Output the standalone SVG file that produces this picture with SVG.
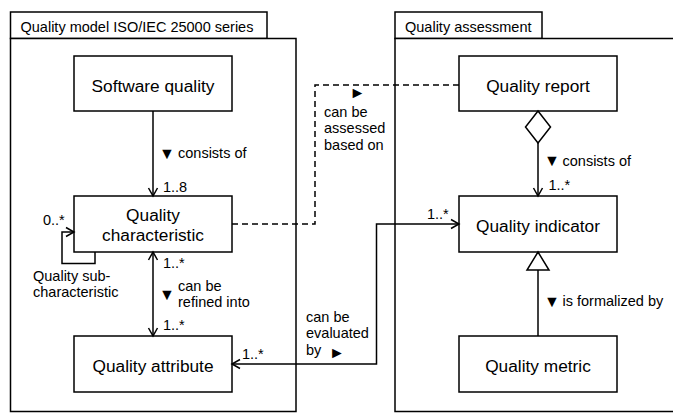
<svg xmlns="http://www.w3.org/2000/svg" width="673" height="413" viewBox="0 0 673 413">
<style>
  .pkg { fill: #fff; stroke: #000; stroke-width: 1.5; }
  .box { fill: #fff; stroke: #000; stroke-width: 1.5; }
  .t { font-family: "Liberation Sans", Arial, sans-serif; font-size: 14.5px; fill: #000; }
  .bt { font-family: "Liberation Sans", Arial, sans-serif; font-size: 17.3px; fill: #000; text-anchor: middle; }
  .sym { font-family: "Liberation Sans", "DejaVu Sans", sans-serif; font-size: 16px; fill: #000; }
  .c { fill: none; stroke: #000; stroke-width: 1.5; }
  .dash { stroke-dasharray: 6 4; }
  .head { fill: #fff; stroke: #000; stroke-width: 1.5; }
</style>
<defs>
  <marker id="open" markerUnits="userSpaceOnUse" markerWidth="12" markerHeight="12" refX="9" refY="6" orient="auto-start-reverse">
    <path d="M1,1.5 L9,6 L1,10.5" fill="none" stroke="#000" stroke-width="1.5"/>
  </marker>
</defs>

<g id="pkg-quality-model">
  <rect class="pkg" x="10.5" y="12" width="256.5" height="26.5"/>
  <rect class="pkg" x="10.5" y="38.5" width="285.5" height="373"/>
  <text class="t" x="20.5" y="31.5">Quality model ISO/IEC 25000 series</text>
</g>
<g id="pkg-quality-assessment">
  <rect class="pkg" x="395" y="12" width="147" height="26.5"/>
  <rect class="pkg" x="395" y="38.5" width="290" height="373"/>
  <text class="t" x="405" y="31.5">Quality assessment</text>
</g>

<g id="software-quality">
  <rect class="box" x="74" y="56" width="158" height="55"/>
  <text class="bt" x="153" y="91.5">Software quality</text>
</g>
<g id="quality-characteristic">
  <rect class="box" x="74" y="196" width="158" height="56"/>
  <text class="bt" x="153" y="220.5">Quality</text>
  <text class="bt" x="153" y="240.5">characteristic</text>
</g>
<g id="quality-attribute">
  <rect class="box" x="74" y="336" width="158" height="56"/>
  <text class="bt" x="153" y="371.5">Quality attribute</text>
</g>
<g id="quality-report">
  <rect class="box" x="459" y="56" width="158" height="55"/>
  <text class="bt" x="538" y="91.5">Quality report</text>
</g>
<g id="quality-indicator">
  <rect class="box" x="459" y="196" width="158" height="56"/>
  <text class="bt" x="538" y="231.5">Quality indicator</text>
</g>
<g id="quality-metric">
  <rect class="box" x="459" y="336" width="158" height="56"/>
  <text class="bt" x="538" y="371.5">Quality metric</text>
</g>

<g id="connectors">
  <path class="c" d="M153,111 V196" marker-end="url(#open)"/>
  <path class="c" d="M95,252 V263.5 H62 V232 H74" marker-end="url(#open)"/>
  <path class="c" d="M153,252 V336" marker-start="url(#open)" marker-end="url(#open)"/>
  <path class="c dash" d="M232,224 H315 V85 H459"/>
  <path class="c" d="M538,143 V196" marker-end="url(#open)"/>
  <path class="head" d="M538,111 L550.5,127 L538,143 L525.5,127 Z"/>
  <path class="c" d="M538,270 V336"/>
  <path class="head" d="M538,252 L549,270 L527,270 Z"/>
  <path class="c" d="M459,224 H376.5 V364 H232" marker-start="url(#open)" marker-end="url(#open)"/>

  <text class="sym" x="159" y="158.5">▼</text>
  <text class="t" x="178" y="158">consists of</text>
  <text class="t" x="163" y="191.5">1..8</text>
  <text class="t" x="43" y="225">0..*</text>
  <text class="t" x="33" y="281">Quality sub-</text>
  <text class="t" x="33" y="297">characteristic</text>
  <text class="t" x="163" y="268">1..*</text>
  <text class="sym" x="159" y="299.5">▼</text>
  <text class="t" x="178" y="290.5">can be</text>
  <text class="t" x="178" y="307">refined into</text>
  <text class="t" x="163" y="330">1..*</text>
  <text class="t" x="306" y="321.5">can be</text>
  <text class="t" x="306" y="338">evaluated</text>
  <text class="t" x="306" y="354.5">by</text>
  <text class="sym" x="329" y="357.5">►</text>
  <text class="t" x="242" y="358.5">1..*</text>
  <text class="t" x="427" y="219">1..*</text>
  <text class="sym" x="349.5" y="98">►</text>
  <text class="t" x="324" y="116.5">can be</text>
  <text class="t" x="324" y="133">assessed</text>
  <text class="t" x="324" y="149.5">based on</text>
  <text class="sym" x="544" y="166">▼</text>
  <text class="t" x="562.5" y="165.5">consists of</text>
  <text class="t" x="548.5" y="190">1..*</text>
  <text class="sym" x="544" y="306.5">▼</text>
  <text class="t" x="562.5" y="306">is formalized by</text>
</g>
</svg>
